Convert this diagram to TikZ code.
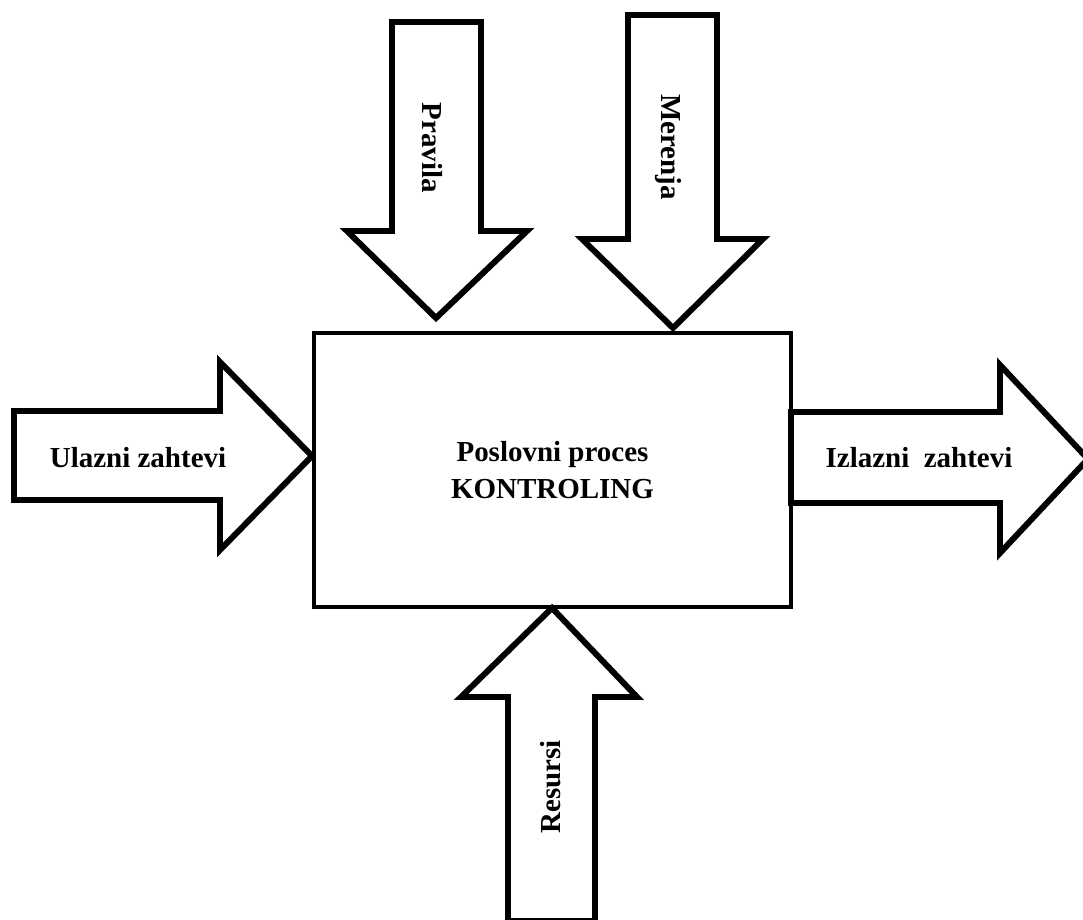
\documentclass[tikz,border=0pt]{standalone}
\usepackage{fontspec}
\setmainfont{Liberation Serif}
\tikzset{
  blockarrow/.style={draw,line width=3.4pt,fill=white,miter limit=20},
  lbl/.style={font=\bfseries\fontsize{16.5}{21.5}\selectfont,align=center}
}
\begin{document}
\begin{tikzpicture}[x=0.02cm,y=-0.02cm]
  \useasboundingbox (0,0) rectangle (1083,920);
  \clip (0,0) rectangle (1083,920);
%%% gore: pravila i merenja
  \draw[blockarrow] (392,22) -- (481,22) -- (481,231) -- (527,231)
    -- (436,318) -- (347,231) -- (392,231) -- cycle;
  \node[lbl,rotate=-90] (pravila) at (432,148) {Pravila};
  \draw[blockarrow] (628,15) -- (717,15) -- (717,239) -- (763,239)
    -- (673,328) -- (582,239) -- (628,239) -- cycle;
  \node[lbl,rotate=-90] (merenja) at (668,147) {Merenja};
%%% levo: ulaz
  \draw[blockarrow] (14,411) -- (220,411) -- (220,362) -- (312,456)
    -- (220,550) -- (220,500) -- (14,500) -- cycle;
  \node[lbl] (ulaz) at (138,458) {Ulazni zahtevi};
%%% desno: izlaz
  \draw[blockarrow] (791,412) -- (1000,412) -- (1000,365) -- (1088,459)
    -- (1000,553) -- (1000,503) -- (791,503) -- cycle;
  \node[lbl] (izlaz) at (919,458) {Izlazni\ \ zahtevi};
%%% dole: resursi
  \draw[blockarrow] (508,921) -- (508,697) -- (461,697) -- (552,608)
    -- (637,697) -- (595,697) -- (595,921) -- cycle;
  \node[lbl,rotate=90] (resursi) at (551,787) {Resursi};
%%% proces
  \node[lbl,draw,line width=2pt,minimum width=9.54cm,minimum height=5.48cm]
    (proces) at (552.5,470) {Poslovni proces\\KONTROLING};
\end{tikzpicture}
\end{document}
